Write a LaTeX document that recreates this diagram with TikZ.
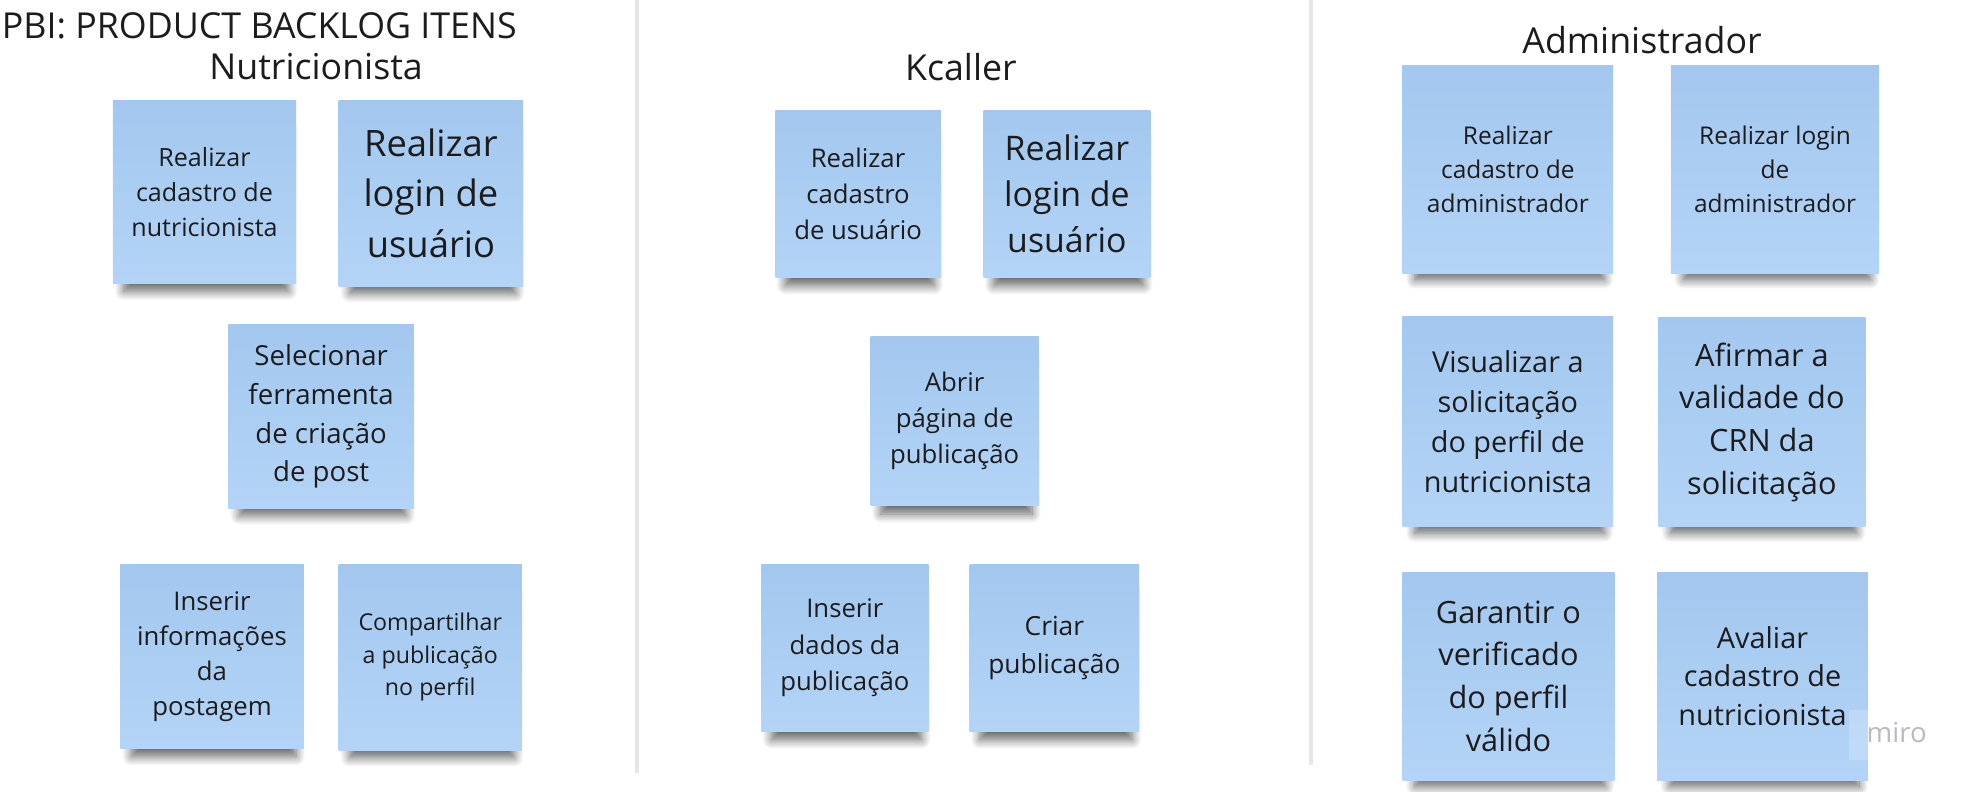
\documentclass[tikz,border=0pt]{standalone}
\usepackage{fontspec}
\setmainfont{Open Sans}
\usepackage{tikz}
\usetikzlibrary{shadows.blur}

\definecolor{notetop}{HTML}{A3C7EF}
\definecolor{notebot}{HTML}{B3D4F6}
\definecolor{inktext}{HTML}{1C1C1C}
\definecolor{divgray}{HTML}{E6E6E6}
\definecolor{logogray}{HTML}{B9B9C3}

\newcommand{\nfont}[2]{\fontsize{#1}{#2}\selectfont}

\tikzset{
    note/.style={top color=notetop, bottom color=notebot, inner sep=0pt,
        align=center, text=inktext,
        blur shadow={shadow xshift=1.5pt, shadow yshift=-15pt, shadow scale=0.9,
            shadow blur radius=8pt, shadow blur steps=12, shadow opacity=60}},
    heading/.style={anchor=base, text=inktext, font=\nfont{28.5}{34}},
    divider/.style={draw=divgray, line width=3.5pt}
}

\begin{document}
\begin{tikzpicture}[x=1pt, y=-1pt]
    \useasboundingbox (0,0) rectangle (1572,631.35);

    % Draw headings
    \node[heading, anchor=base west] (pbi) at (-2,31) {PBI: PRODUCT BACKLOG ITENS};
    \node[heading] (nutri) at (252,63) {Nutricionista};
    \node[heading] (kcaller) at (766,64) {Kcaller};
    \node[heading] (admin) at (1309,43) {Administrador};

    % Draw dividers between the columns
    \draw[divider] (508,0) -- (508,616);
    \draw[divider] (1045,0) -- (1045,610);

    % Draw notes of Nutricionista
    \node[note, minimum width=146pt, minimum height=146pt, font=\nfont{20}{28}]
        (nutriCad) at (163,153) {Realizar\\cadastro de\\nutricionista};
    \node[note, minimum width=147pt, minimum height=148pt, font=\nfont{29}{40}]
        (nutriLogin) at (343.5,154) {Realizar\\login de\\usuário};
    \node[note, minimum width=148pt, minimum height=146pt, font=\nfont{22}{31}]
        (nutriTool) at (256,332) {Selecionar\\ferramenta\\de criação\\de post};
    \node[note, minimum width=146pt, minimum height=147pt, font=\nfont{20.5}{28}]
        (nutriInfo) at (169,523.5) {Inserir\\informações\\da\\postagem};
    \node[note, minimum width=146pt, minimum height=148pt, font=\nfont{18.5}{26}]
        (nutriShare) at (343,524) {Compartilhar\\a publicação\\no perfil};

    % Draw notes of Kcaller
    \node[note, minimum width=132pt, minimum height=133pt, font=\nfont{20.5}{29}]
        (kcCad) at (684,154.5) {Realizar\\cadastro\\de usuário};
    \node[note, minimum width=133pt, minimum height=133pt, font=\nfont{27}{37}]
        (kcLogin) at (850.5,154.5) {Realizar\\login de\\usuário};
    \node[note, minimum width=134pt, minimum height=135pt, font=\nfont{20.5}{29}]
        (kcOpen) at (761,335.5) {Abrir\\página de\\publicação};
    \node[note, minimum width=133pt, minimum height=133pt, font=\nfont{20.5}{29}]
        (kcData) at (673.5,516.5) {Inserir\\dados da\\publicação};
    \node[note, minimum width=135pt, minimum height=133pt, font=\nfont{21}{30}]
        (kcPost) at (840.5,516.5) {Criar\\publicação};

    % Draw notes of Administrador
    \node[note, minimum width=168pt, minimum height=166pt, font=\nfont{19.5}{27}]
        (admCad) at (1202,135) {Realizar\\cadastro de\\administrador};
    \node[note, minimum width=166pt, minimum height=166pt, font=\nfont{19.5}{27}]
        (admLogin) at (1415,135) {Realizar login\\de\\administrador};
    \node[note, minimum width=168pt, minimum height=168pt, font=\nfont{23}{32}]
        (admView) at (1202,336) {Visualizar a\\solicitação\\do perfil de\\nutricionista};
    \node[note, minimum width=165pt, minimum height=167pt, font=\nfont{24.5}{34}]
        (admCrn) at (1404.5,336.5) {Afirmar a\\validade do\\CRN da\\solicitação};
    \node[note, minimum width=169pt, minimum height=166pt, font=\nfont{24.5}{34}]
        (admCheck) at (1202.5,539) {Garantir o\\verificado\\do perfil\\válido};
    \node[note, minimum width=168pt, minimum height=166pt, font=\nfont{23}{31}]
        (admEval) at (1405,539) {Avaliar\\cadastro de\\nutricionista};

    % Draw miro mark
    \fill[white, opacity=0.2] (1474,566) rectangle (1540,606);
    \node[text=logogray, font=\nfont{22}{26}] (miro) at (1512,584) {miro};
\end{tikzpicture}
\end{document}
